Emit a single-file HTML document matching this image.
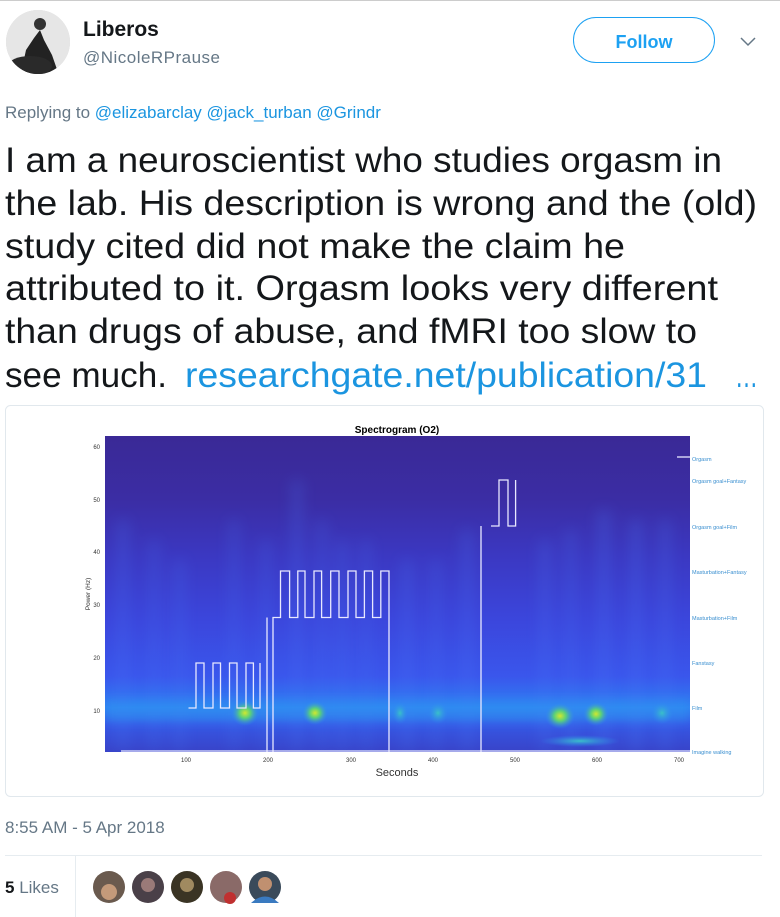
<!DOCTYPE html>
<html><head><meta charset="utf-8"><style>
html,body{margin:0;padding:0;background:#fff;}
svg{display:block;font-family:"Liberation Sans",sans-serif;}
</style></head><body>
<svg width="780" height="917" viewBox="0 0 780 917" xmlns="http://www.w3.org/2000/svg">
<defs>
<linearGradient id="bg" x1="0" y1="0" x2="0" y2="1">
<stop offset="0" stop-color="#3a2996"/>
<stop offset="0.2" stop-color="#3b2da4"/>
<stop offset="0.38" stop-color="#3b38c2"/>
<stop offset="0.58" stop-color="#3b46dc"/>
<stop offset="0.76" stop-color="#3a56ec"/>
<stop offset="0.86" stop-color="#2f7ff2"/>
<stop offset="0.91" stop-color="#3658e6"/>
<stop offset="1" stop-color="#3843c8"/>
</linearGradient>
<filter id="blur" x="-100%" y="-10%" width="300%" height="120%"><feGaussianBlur stdDeviation="7"/></filter>
<filter id="blur2" x="-10%" y="-100%" width="120%" height="300%"><feGaussianBlur stdDeviation="5"/></filter>
<radialGradient id="blob"><stop offset="0" stop-color="#d0e830"/><stop offset="0.4" stop-color="#5ad07a"/><stop offset="1" stop-color="#2f8af0" stop-opacity="0"/></radialGradient>
<radialGradient id="blob2"><stop offset="0" stop-color="#3ac0c8"/><stop offset="1" stop-color="#2f8af0" stop-opacity="0"/></radialGradient>
<clipPath id="pc"><rect x="105" y="436" width="585" height="316"/></clipPath>
<clipPath id="av"><circle cx="38" cy="42" r="32"/></clipPath>
</defs>
<rect x="0" y="0" width="780" height="1" fill="#ccc"/>
<circle cx="38" cy="42" r="32" fill="#d8d8d8"/>
<g clip-path="url(#av)">
<rect x="6" y="10" width="64" height="64" fill="#e6e6e6"/>
<path d="M20 78 L26 50 L34 38 L40 30 L44 40 L52 55 L60 78 Z" fill="#222"/>
<circle cx="40" cy="24" r="6" fill="#333"/>
<ellipse cx="30" cy="66" rx="22" ry="10" fill="#2a2a2a"/>
</g>
<text x="83" y="36" font-size="21" font-weight="bold" fill="#14171a">Liberos</text>
<text x="83" y="63" font-size="17" fill="#657786" textLength="137">@NicoleRPrause</text>
<rect x="573.5" y="17.5" width="141" height="45" rx="22.5" fill="#fff" stroke="#1da1f2" stroke-width="1"/>
<text x="644" y="48" font-size="18" font-weight="bold" fill="#1da1f2" text-anchor="middle">Follow</text>
<path d="M741 38 L748 45 L755 38" fill="none" stroke="#657786" stroke-width="1.5"/>
<text x="5" y="118" font-size="17" fill="#657786">Replying to <tspan fill="#1b95e0">@elizabarclay @jack_turban @Grindr</tspan></text>
<g font-size="35" fill="#14171a">
<text x="5" y="172" textLength="717" lengthAdjust="spacingAndGlyphs">I am a neuroscientist who studies orgasm in</text>
<text x="5" y="215" textLength="752" lengthAdjust="spacingAndGlyphs">the lab. His description is wrong and the (old)</text>
<text x="5" y="258" textLength="620" lengthAdjust="spacingAndGlyphs">study cited did not make the claim he</text>
<text x="5" y="300" textLength="713" lengthAdjust="spacingAndGlyphs">attributed to it. Orgasm looks very different</text>
<text x="5" y="343" textLength="692" lengthAdjust="spacingAndGlyphs">than drugs of abuse, and fMRI too slow to</text>
<text x="5" y="387" textLength="162" lengthAdjust="spacingAndGlyphs">see much.</text>
<text x="185" y="387" fill="#1b95e0" textLength="522" lengthAdjust="spacingAndGlyphs">researchgate.net/publication/31</text>
<text x="735" y="387" fill="#1b95e0" textLength="23" lengthAdjust="spacingAndGlyphs">…</text>
</g>
<rect x="5.5" y="405.5" width="758" height="391" rx="5" fill="#fff" stroke="#e1e8ed"/>
<rect x="105" y="436" width="585" height="316" fill="url(#bg)"/>
<g clip-path="url(#pc)">
<g filter="url(#blur)" fill="#4a7cf6" opacity="0.25">
<rect x="118" y="520" width="10" height="232"/><rect x="150" y="540" width="8" height="212"/>
<rect x="175" y="560" width="9" height="192"/><rect x="230" y="520" width="8" height="232"/>
<rect x="262" y="540" width="8" height="212"/><rect x="292" y="480" width="10" height="272"/>
<rect x="318" y="520" width="8" height="232"/><rect x="338" y="540" width="9" height="212"/>
<rect x="362" y="540" width="8" height="212"/><rect x="402" y="560" width="10" height="192"/>
<rect x="432" y="560" width="8" height="192"/><rect x="462" y="530" width="10" height="222"/>
<rect x="540" y="540" width="10" height="212"/><rect x="566" y="530" width="9" height="222"/>
<rect x="598" y="510" width="12" height="242"/><rect x="630" y="520" width="12" height="232"/>
<rect x="660" y="520" width="10" height="232"/>
</g>
<g filter="url(#blur2)" fill="#2f9af0" opacity="0.45">
<rect x="105" y="700" width="585" height="22"/>
</g>
<ellipse cx="245" cy="713" rx="14" ry="13" fill="url(#blob)"/>
<ellipse cx="315" cy="713" rx="13" ry="12" fill="url(#blob)"/>
<ellipse cx="560" cy="716" rx="15" ry="13" fill="url(#blob)"/>
<ellipse cx="596" cy="714" rx="13" ry="12" fill="url(#blob)"/>
<ellipse cx="662" cy="713" rx="11" ry="11" fill="url(#blob2)"/>
<ellipse cx="438" cy="713" rx="10" ry="11" fill="url(#blob2)"/>
<ellipse cx="400" cy="713" rx="8" ry="11" fill="url(#blob2)"/>
<ellipse cx="580" cy="741" rx="40" ry="6" fill="url(#blob2)"/>
</g>
<g fill="none" stroke="#e8e8ff" stroke-width="1.3">
<path d="M121 751 H690"/>
<path d="M188.5 708 H196 V663 H204 V708 H213 V663 H220.5 V708 H229.5 V663 H237 V708 H246 V663 H253.4 V708 H260 V663"/>
<path d="M267 752 V617.5"/>
<path d="M273 752 V617.5 H280.5 V571 H289.6 V617.5 H297.8 V571 H305 V617.5 H314 V571 H321.6 V617.5 H330.7 V571 H339 V617.5 H348 V571 H356 V617.5 H364.4 V571 H372.6 V617.5 H380.8 V571 H389 V752"/>
<path d="M481 752 V526"/>
<path d="M491 526 H499 V480 H508 V526 H515.6 V480"/>
<path d="M677 457 H690"/>
</g>
<text x="397" y="433" font-size="10" font-weight="bold" text-anchor="middle" fill="#000">Spectrogram (O2)</text>
<g font-size="6" fill="#333" text-anchor="end">
<text x="100" y="449">60</text><text x="100" y="502">50</text><text x="100" y="554">40</text>
<text x="100" y="607">30</text><text x="100" y="660">20</text><text x="100" y="713">10</text>
</g>
<text transform="translate(90,594) rotate(-90)" font-size="6.5" fill="#333" text-anchor="middle">Power (Hz)</text>
<g font-size="6" fill="#333" text-anchor="middle">
<text x="186" y="762">100</text><text x="268" y="762">200</text><text x="351" y="762">300</text>
<text x="433" y="762">400</text><text x="515" y="762">500</text><text x="597" y="762">600</text><text x="679" y="762">700</text>
</g>
<text x="397" y="776" font-size="11" fill="#333" text-anchor="middle">Seconds</text>
<g font-size="5.5" fill="#3a8fd0">
<text x="692" y="461">Orgasm</text><text x="692" y="483">Orgasm goal+Fantasy</text>
<text x="692" y="529">Orgasm goal+Film</text><text x="692" y="574">Masturbation+Fantasy</text>
<text x="692" y="620">Masturbation+Film</text><text x="692" y="665">Fanstasy</text>
<text x="692" y="710">Film</text><text x="692" y="754">Imagine walking</text>
</g>
<text x="5" y="833" font-size="17" fill="#657786">8:55 AM - 5 Apr 2018</text>
<rect x="5" y="855" width="757" height="1" fill="#e6ecf0"/>
<rect x="75" y="856" width="1" height="61" fill="#e6ecf0"/>
<text x="5" y="893" font-size="17" fill="#657786"><tspan font-weight="bold" fill="#14171a">5</tspan> Likes</text>
<circle cx="109" cy="887" r="16" fill="#6a5a4e"/><circle cx="109" cy="892" r="8" fill="#c49a7a"/>
<circle cx="148" cy="887" r="16" fill="#4a4048"/><circle cx="148" cy="885" r="7" fill="#9a7a78"/>
<circle cx="187" cy="887" r="16" fill="#3a3424"/><circle cx="187" cy="885" r="7" fill="#a08a60"/>
<circle cx="226" cy="887" r="16" fill="#8a6a68"/><circle cx="230" cy="898" r="6" fill="#c03030"/>
<circle cx="265" cy="887" r="16" fill="#3a4a5a"/><circle cx="265" cy="884" r="7" fill="#c09070"/><path d="M251 903 Q265 890 279 903 Z" fill="#3a7ac0"/>
</svg>
</body></html>
